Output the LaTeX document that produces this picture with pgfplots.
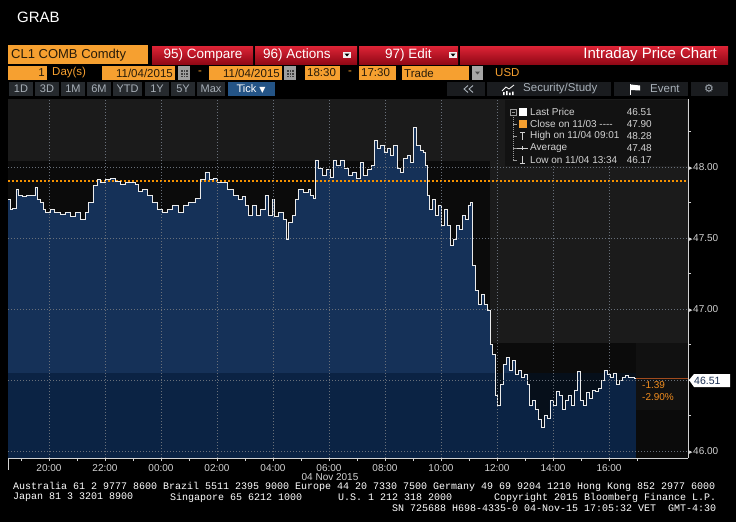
\documentclass[border=0pt]{standalone}
\usepackage{pgfplots}
\pgfplotsset{compat=1.18}
\usepackage{pgfplotstable}
\usepackage{fontspec}
\setmainfont{Liberation Sans}
\newfontfamily\mono{Liberation Mono}
\newfontfamily\dv{DejaVu Sans}
\newcommand\fs[1]{\fontsize{#1}{#1}\selectfont}
\newcommand\ytl[1]{{\dv\fs{7}\char"25B8}\kern0.5pt#1}

\definecolor{bborange}{RGB}{246,160,48}
\definecolor{bbotext}{RGB}{40,28,10}
\definecolor{redtop}{RGB}{222,36,54}
\definecolor{redbot}{RGB}{145,8,22}
\definecolor{btn}{RGB}{38,42,46}
\definecolor{btntext}{RGB}{168,176,184}
\definecolor{btn2}{RGB}{26,28,31}
\definecolor{tickblue}{RGB}{36,84,134}
\definecolor{plotgrey}{RGB}{27,27,27}
\definecolor{plotblack}{RGB}{11,11,11}
\definecolor{bluetop}{RGB}{21,49,88}
\definecolor{bluedark}{RGB}{0,20,45}
\definecolor{closeorange}{RGB}{245,145,0}
\definecolor{gridc}{RGB}{105,112,122}
\definecolor{labelgrey}{RGB}{210,210,210}
\definecolor{lastnavy}{RGB}{25,45,80}
\definecolor{chgorange}{RGB}{240,140,30}
\definecolor{lastline}{RGB}{160,75,30}
\definecolor{legbg}{RGB}{18,18,18}
\definecolor{linewhite}{RGB}{235,235,235}

\pgfplotstableread{
h p
-5.46 47.77
-5.39 47.70
-5.29 47.71
-5.18 47.84
-5.11 47.80
-4.96 47.79
-4.79 47.80
-4.61 47.80
-4.50 47.86
-4.43 47.77
-4.32 47.75
-4.21 47.70
-4.14 47.68
-3.96 47.70
-3.79 47.68
-3.61 47.67
-3.43 47.68
-3.25 47.65
-3.07 47.68
-2.89 47.63
-2.71 47.68
-2.61 47.75
-2.43 47.87
-2.29 47.91
-2.18 47.89
-2.00 47.91
-1.82 47.92
-1.64 47.90
-1.46 47.88
-1.29 47.89
-1.11 47.89
-0.93 47.88
-0.82 47.83
-0.68 47.84
-0.50 47.80
-0.32 47.75
-0.14 47.70
0.04 47.68
0.21 47.70
0.39 47.73
0.61 47.68
0.79 47.73
0.96 47.75
1.21 47.78
1.39 47.91
1.57 47.965
1.71 47.91
1.86 47.92
2.00 47.89
2.18 47.89
2.36 47.84
2.57 47.80
2.75 47.77
2.89 47.79
3.00 47.73
3.11 47.66
3.25 47.73
3.39 47.66
3.54 47.70
3.71 47.80
3.82 47.66
3.96 47.77
4.04 47.65
4.18 47.68
4.36 47.63
4.46 47.49
4.54 47.61
4.68 47.66
4.79 47.77
4.89 47.84
5.07 47.82
5.25 47.84
5.32 47.80
5.43 47.78
5.50 48.05
5.61 47.99
5.75 47.94
5.89 47.98
6.04 47.93
6.14 48.05
6.25 48.01
6.39 48.05
6.54 47.99
6.68 47.94
6.82 47.965
6.96 47.92
7.11 48.03
7.21 47.94
7.36 47.98
7.50 48.01
7.61 48.19
7.71 48.13
7.82 48.155
7.96 48.105
8.07 48.13
8.18 48.085
8.29 48.155
8.43 47.99
8.54 47.965
8.64 48.06
8.79 48.085
8.89 48.03
9.02 48.28
9.11 48.155
9.25 48.12
9.36 48.10
9.43 48.01
9.50 47.80
9.57 47.70
9.68 47.77
9.79 47.66
9.89 47.73
10.00 47.59
10.11 47.70
10.21 47.59
10.32 47.45
10.43 47.49
10.54 47.59
10.64 47.56
10.75 47.66
10.86 47.63
10.96 47.73
11.04 47.75
11.11 47.31
11.21 47.13
11.32 47.03
11.43 47.10
11.54 47.03
11.64 46.99
11.75 46.75
11.82 46.68
11.93 46.39
12.00 46.32
12.11 46.47
12.21 46.61
12.32 46.66
12.43 46.57
12.54 46.64
12.64 46.54
12.75 46.57
12.86 46.52
12.96 46.54
13.07 46.47
13.14 46.32
13.25 46.36
13.36 46.29
13.46 46.22
13.57 46.17
13.68 46.25
13.79 46.23
13.89 46.36
14.00 46.32
14.11 46.42
14.21 46.39
14.32 46.29
14.43 46.36
14.54 46.39
14.64 46.32
14.75 46.43
14.86 46.56
14.96 46.36
15.07 46.32
15.18 46.41
15.29 46.37
15.39 46.43
15.50 46.42
15.61 46.44
15.71 46.50
15.82 46.57
15.93 46.54
16.04 46.52
16.14 46.55
16.25 46.47
16.36 46.50
16.46 46.52
16.57 46.53
16.68 46.52
16.79 46.52
16.89 46.51
16.96 46.51
}\price

\begin{document}
\begin{tikzpicture}
\begin{scope}[x=1pt,y=-1pt]
\useasboundingbox (0,0) rectangle (736,522);
\fill[black] (0,0) rectangle (736,522);
\node[anchor=west, text=white, inner sep=0] at (17,17) {\fs{15}GRAB};
% row 1
\fill[bborange] (8,45) rectangle (148,64);
\node[anchor=west, inner sep=0, text=bbotext] at (11,55) {\fs{13}CL1 COMB Comdty};
\foreach \a/\b in {152/253,255/357,359/458,460/728} {\shade[top color=redtop, bottom color=redbot] (\a,46) rectangle (\b,64);}
\node[text=white, inner sep=0] at (203,55) {\fs{13.5}95) Compare};
\node[text=white, inner sep=0, anchor=west] at (263,55) {\fs{13.5}96) Actions};
\node[text=white, inner sep=0, anchor=west] at (385,55) {\fs{13.5}97) Edit};
\node[text=white, inner sep=0, anchor=east] at (717,55) {\fs{15}Intraday Price Chart};
\foreach \a in {343,449} {\fill[white!88!gray] (\a,52) rectangle (\a+8,58);
  \fill[black] (\a+1.5,53.5) -- (\a+6.5,53.5) -- (\a+4,56.5) -- cycle;}
% row 2
\fill[bborange] (8,66) rectangle (47,80);
\node[anchor=east, inner sep=0, text=bbotext] at (45,73) {\fs{11.5}1};
\node[anchor=west, inner sep=0, text=bborange] at (52,73) {\fs{11.5}Day(s)};
\fill[bborange] (102,66) rectangle (175,80);
\node[anchor=east, inner sep=0, text=bbotext] at (173,73) {\fs{11.5}11/04/2015};
\fill[bborange] (209,66) rectangle (282,80);
\node[anchor=east, inner sep=0, text=bbotext] at (280,73) {\fs{11.5}11/04/2015};
\foreach \a in {178,284} {\fill[gray!75] (\a,66) rectangle (\a+12,80);
  \fill[black!75] (\a+2.5,70) rectangle (\a+9.5,77);
  \draw[gray!75, line width=0.5pt] (\a+2.5,72.5) -- (\a+9.5,72.5) (\a+2.5,75) -- (\a+9.5,75) (\a+5,70)--(\a+5,77) (\a+7.3,70)--(\a+7.3,77);}
\node[inner sep=0, text=bborange] at (200,73) {\fs{11.5}-};
\fill[bborange] (305,66) rectangle (340,80);
\node[anchor=west, inner sep=0, text=bbotext] at (307,73) {\fs{11.5}18:30};
\node[inner sep=0, text=bborange] at (350,73) {\fs{11.5}-};
\fill[bborange] (359,66) rectangle (396,80);
\node[anchor=west, inner sep=0, text=bbotext] at (361,73) {\fs{11.5}17:30};
\fill[bborange] (402,66) rectangle (469,80);
\node[anchor=west, inner sep=0, text=bbotext] at (404,73) {\fs{11.5}Trade};
\fill[gray!70] (472,66) rectangle (483,80);
\fill[black!70] (475,71.5) -- (480,71.5) -- (477.5,74.5) -- cycle;
\node[anchor=west, inner sep=0, text=bborange] at (495,73) {\fs{11.5}USD};
% row 3
\foreach \a/\b/\t in {9/33/1D,35/59/3D,61/85/1M,87/111/6M,113/142/YTD,145/169/1Y,171/195/5Y,197/225/Max}
  {\fill[btn] (\a,82) rectangle (\b,96);
   \node[text=btntext, inner sep=0] at ({(\a+\b)/2},89) {\fs{11}\t};}
\fill[tickblue] (228,82) rectangle (275,96);
\node[text=white, inner sep=0] at (251,89) {\fs{11}Tick {\dv\fs{8}\char"25BC}};
\fill[btn2] (447,82) rectangle (485,96);
\draw[btntext, line width=0.9pt] (468,85.5) -- (464,89) -- (468,92.5) (473,85.5) -- (469,89) -- (473,92.5);
\fill[btn2] (487,82) rectangle (611,96);
\draw[white, line width=0.8pt] (502,91) -- (506,87) -- (509,89) -- (514,85);
\fill[white] (503,92) rectangle (504.5,95) (506,91) rectangle (507.5,95) (509,92.5) rectangle (510.5,95) (512,91.5) rectangle (513.5,95);
\node[anchor=west, text=btntext, inner sep=0] at (523,89) {\fs{11.5}Security/Study};
\fill[btn2] (614,82) rectangle (688,96);
\draw[white, line width=0.8pt] (630.5,84) -- (630.5,95);
\fill[white] (631,84.5) -- (640,85.5) -- (640,90.5) -- (631,90) -- cycle;
\node[anchor=west, text=btntext, inner sep=0] at (650,89) {\fs{11.5}Event};
\fill[btn2] (691,82) rectangle (728,96);
\node[text=btntext, inner sep=0] at (709,89) {\dv\fs{11}\char"2699};
\end{scope}

\begin{axis}[at={(8pt,-458pt)}, anchor=south west,
  scale only axis, width=680pt, height=359pt,
  xmin=-5.464, xmax=18.821, ymin=45.951, ymax=48.479,
  axis x line*=bottom, axis y line*=right,
  axis line style={draw=labelgrey, line width=0.8pt},
  axis background/.style={fill=plotblack},
  axis on top,
  xtick={-4,-2,0,2,4,6,8,10,12,14,16},
  xticklabels={20:00,22:00,00:00,02:00,04:00,06:00,08:00,10:00,12:00,14:00,16:00},
  minor xtick={-5,-3,-1,1,3,5,7,9,11,13,15,17},
  ytick={46,46.5,47,47.5,48},
  yticklabels={\ytl{46.00},,\ytl{47.00},\ytl{47.50},\ytl{48.00}},
  minor ytick={46.25,46.75,47.25,47.75,48.25},
  tick align=outside,
  major tick length=3pt, minor tick length=3pt,
  tick style={draw=labelgrey, line width=0.7pt},
  xmajorgrids, ymajorgrids,
  major grid style={draw=gridc, line width=0.6pt, dash pattern=on 1pt off 2pt},
  xticklabel style={font=\fs{10}, text=labelgrey, inner sep=0pt, yshift=-3pt},
  yticklabel style={font=\fs{10}, text=labelgrey, inner sep=0pt, anchor=west, xshift=-2pt},
]
\fill[plotgrey] (axis cs:-5.464,48.479) rectangle (axis cs:11.75,48.042);
\fill[plotgrey] (axis cs:11.75,48.479) rectangle (axis cs:18.821,46.761);
\fill[legbg!110!plotgrey] (axis cs:16.96,46.761) rectangle (axis cs:18.821,46.289);
\addplot[const plot, draw=none, fill=bluetop] table[x=h,y=p]{\price} \closedcycle;
\fill[bluedark, opacity=0.45] (axis cs:-5.464,45.951) rectangle (axis cs:16.96,46.55);
\addplot[draw=closeorange, line width=1.6pt, dash pattern=on 2pt off 2pt, line cap=butt, mark=none] coordinates {(-5.464,47.90) (18.821,47.90)};
\addplot[draw=lastline, line width=1pt, mark=none] coordinates {(16.96,46.51) (18.821,46.51)};
\addplot[const plot, draw=linewhite, line width=0.75pt, mark=none] table[x=h,y=p]{\price};
\end{axis}

\begin{scope}[x=1pt,y=-1pt]
% legend
\fill[legbg] (505,100) rectangle (687,166);
\draw[gray!80, line width=0.5pt] (510,109) rectangle (516,115);
\draw[gray!80, line width=0.5pt] (511.5,112) -- (514.5,112);
\draw[gray!80, line width=0.5pt, dash pattern=on 1pt off 1pt] (513,115) -- (513,160);
\foreach \yy in {124,136,148,160} {\draw[gray!80, line width=0.5pt] (513,\yy) -- (517,\yy);}
\fill[white] (519,108) rectangle (527,116);
\fill[bborange] (519,120) rectangle (527,128);
\draw[labelgrey, line width=0.6pt] (520,132) -- (525,132) (522.5,132) -- (522.5,140);
\draw[labelgrey, line width=0.6pt] (517,148) -- (528,148) (522.5,146) -- (522.5,150);
\draw[labelgrey, line width=0.6pt] (522.5,156) -- (522.5,163) (520,163) -- (525,163);
\foreach \yy/\t/\v in {112/{Last Price}/46.51,124/{Close on 11/03 {-}{-}{-}{-}}/47.90,136/{High on 11/04 09:01}/48.28,148/{Average}/47.48,160/{Low on 11/04 13:34}/46.17}
 {\node[anchor=west, inner sep=0, text=labelgrey] at (530,\yy) {\fs{10}\t};
  \node[anchor=east, inner sep=0, text=labelgrey] at (652,\yy) {\fs{10}\v};}
% last price label
\fill[white] (689,380) -- (694,374) -- (730,374) -- (730,387) -- (694,387) -- cycle;
\node[anchor=west, inner sep=0, text=lastnavy] at (694,380.5) {\fs{10.5}46.51};
\node[anchor=west, inner sep=0, text=chgorange] at (642,385) {\fs{10}-1.39};
\node[anchor=west, inner sep=0, text=chgorange] at (642,397) {\fs{10}-2.90\%};
\node[inner sep=0, text=labelgrey] at (330,477) {\fs{10}04 Nov 2015};
\draw[labelgrey, line width=0.8pt] (8,458) -- (8,470);
% footer
\node[anchor=west, inner sep=0, text=white] at (13,487) {\mono\fs{10}Australia 61 2 9777 8600 Brazil 5511 2395 9000 Europe 44 20 7330 7500 Germany 49 69 9204 1210 Hong Kong 852 2977 6000};
\node[anchor=west, inner sep=0, text=white] at (13,497.5) {\mono\fs{10}Japan 81 3 3201 8900};
\node[anchor=west, inner sep=0, text=white] at (170,497.5) {\mono\fs{10}Singapore 65 6212 1000};
\node[anchor=west, inner sep=0, text=white] at (338,497.5) {\mono\fs{10}U.S. 1 212 318 2000};
\node[anchor=west, inner sep=0, text=white] at (494,497.5) {\mono\fs{10}Copyright 2015 Bloomberg Finance L.P.};
\node[anchor=west, inner sep=0, text=white] at (392,508) {\mono\fs{10}SN 725688 H698-4335-0 04-Nov-15 17:05:32 VET};
\node[anchor=west, inner sep=0, text=white] at (668,508) {\mono\fs{10}GMT-4:30};
\end{scope}
\end{tikzpicture}
\end{document}
